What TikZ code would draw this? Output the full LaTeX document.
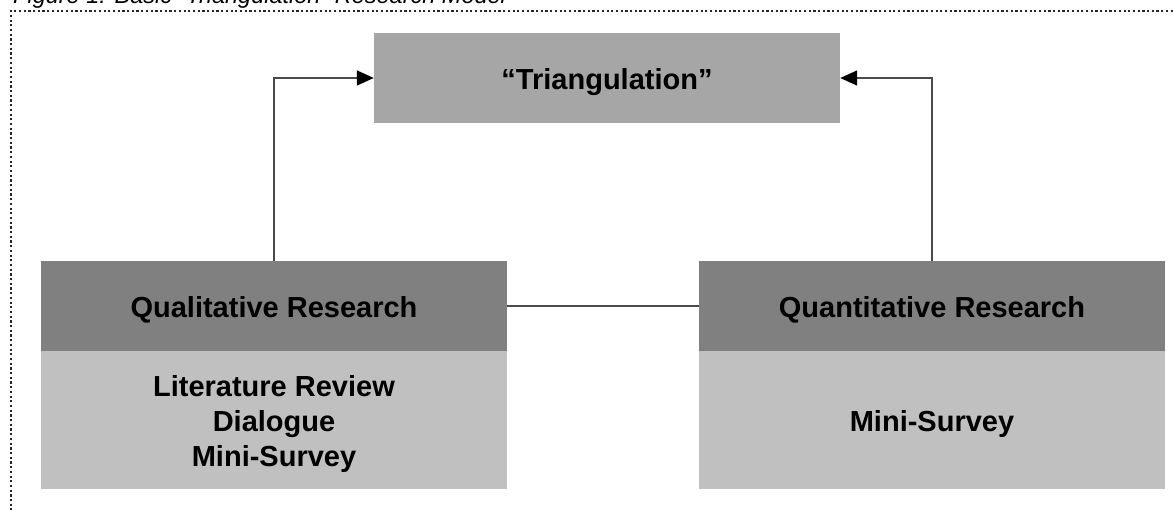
\documentclass[tikz,border=0pt]{standalone}
\usepackage{fontspec}
\setmainfont{Liberation Sans}
\usetikzlibrary{arrows.meta}
\definecolor{headgray}{HTML}{808080}
\definecolor{bodygray}{HTML}{C0C0C0}
\definecolor{trigray}{HTML}{A6A6A6}
\definecolor{linegray}{HTML}{4A4A4A}
\tikzset{
  box/.style={rectangle, draw=none, minimum width=466pt, inner sep=0pt},
  headbox/.style={box, fill=headgray, minimum height=90pt},
  bodybox/.style={box, fill=bodygray, minimum height=138pt},
  tribox/.style={box, fill=trigray, minimum height=90pt},
  txt/.style={inner sep=0pt, align=center, yshift=-4pt,
    font=\fontsize{29}{35}\selectfont\bfseries, text=black},
  conn/.style={draw=linegray, line width=1.5pt},
  arr/.style={conn, -{Triangle[length=17pt,width=15pt,fill=black,color=black]}},
  dotborder/.style={draw=black!85, line width=2.3pt, dash pattern=on 2.2pt off 2.5pt},
  caption/.style={font=\fontsize{23.5}{28}\selectfont\itshape, inner sep=0pt, anchor=base west}
}
\begin{document}
\begin{tikzpicture}[x=1pt, y=-1pt]
\useasboundingbox (0,0) rectangle (1173,510);
\begin{scope}
\clip (0,0) rectangle (1173,510);
\node[caption] (cap) at (13,4) {Figure 1: Basic “Triangulation” Research Model};
\coordinate (bl) at (11,520);
\coordinate (tl) at (11,11);
\coordinate (tr) at (1190,11);
\draw[dotborder] (bl) -- (tl) -- (tr);

\node[tribox] (tri) at (607,78) {};
\node[headbox] (qual) at (274,306) {};
\node[bodybox] (qualb) at (274,420) {};
\node[headbox] (quan) at (932,306) {};
\node[bodybox] (quanb) at (932,420) {};

\node[txt] (trit) at (tri.center) {“Triangulation”};
\node[txt] (qualt) at (qual.center) {Qualitative Research};
\node[txt] (qualbt) at (qualb.center) {Literature Review\\Dialogue\\Mini-Survey};
\node[txt] (quant) at (quan.center) {Quantitative Research};
\node[txt] (quanbt) at (quanb.center) {Mini-Survey};

\draw[conn] (qual.east) -- (quan.west);
\draw[arr] (qual.north) |- (tri.west);
\draw[arr] (quan.north) |- (tri.east);
\end{scope}
\end{tikzpicture}
\end{document}
